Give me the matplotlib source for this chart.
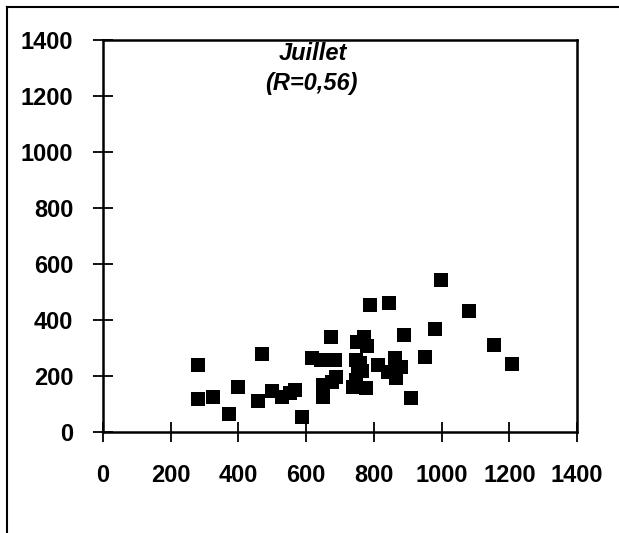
import matplotlib.pyplot as plt
from matplotlib.lines import Line2D

# Juillet : couples (x, y) releves
axeX = [280, 280, 326, 371, 400, 459, 470, 499, 529, 552,
        566, 587, 618, 645, 650, 650, 674, 684, 689, 675,
        738, 748, 753, 748, 758, 765, 750, 770, 779, 778,
        789, 844, 812, 842, 861, 866, 881, 889, 910, 952,
        981, 998, 1081, 1156, 1209]
axeY = [237, 117, 125, 64, 159, 109, 277, 143, 125, 137,
        148, 52, 261, 255, 166, 124, 339, 255, 196, 178,
        160, 255, 220, 184, 243, 216, 318, 338, 304, 154,
        453, 459, 237, 214, 261, 190, 231, 345, 118, 267,
        366, 541, 429, 310, 241]

ticks = [0, 200, 400, 600, 800, 1000, 1200, 1400]
title = 'Juillet'
subtitle = '(R=0,56)'

plt.rcParams['font.family'] = ['Liberation Sans', 'DejaVu Sans']

fig = plt.figure(figsize=(6.19, 5.33), dpi=100)
ax = fig.add_axes([0.1664, 0.1904, 0.7658, 0.7354])

ax.scatter(axeX, axeY, marker='s', s=105, c='black', linewidths=0, zorder=3)

ax.set_xlim(0, 1400)
ax.set_ylim(0, 1400)
ax.set_xticks(ticks)
ax.set_yticks(ticks)
ax.tick_params(direction='inout', length=14, width=1.3, labelsize=17)
ax.tick_params(axis='x', pad=16.5)
ax.tick_params(axis='y', pad=14.5)
for lab in ax.get_xticklabels() + ax.get_yticklabels():
    lab.set_fontweight('bold')
for sp in ax.spines.values():
    sp.set_linewidth(1.8)

ax.text(0.443, 0.964, title, transform=ax.transAxes, ha='center', va='center',
        fontsize=17, fontweight='bold', fontstyle='italic')
ax.text(0.44, 0.887, subtitle, transform=ax.transAxes, ha='center', va='center',
        fontsize=17, fontweight='bold', fontstyle='italic')

# cadre exterieur (haut et gauche)
fig.add_artist(Line2D([0.011, 1.0], [0.987, 0.987], color='black', lw=1.5))
fig.add_artist(Line2D([0.011, 0.011], [0.0, 0.987], color='black', lw=1.5))

fig.savefig('out.png', dpi=100)
